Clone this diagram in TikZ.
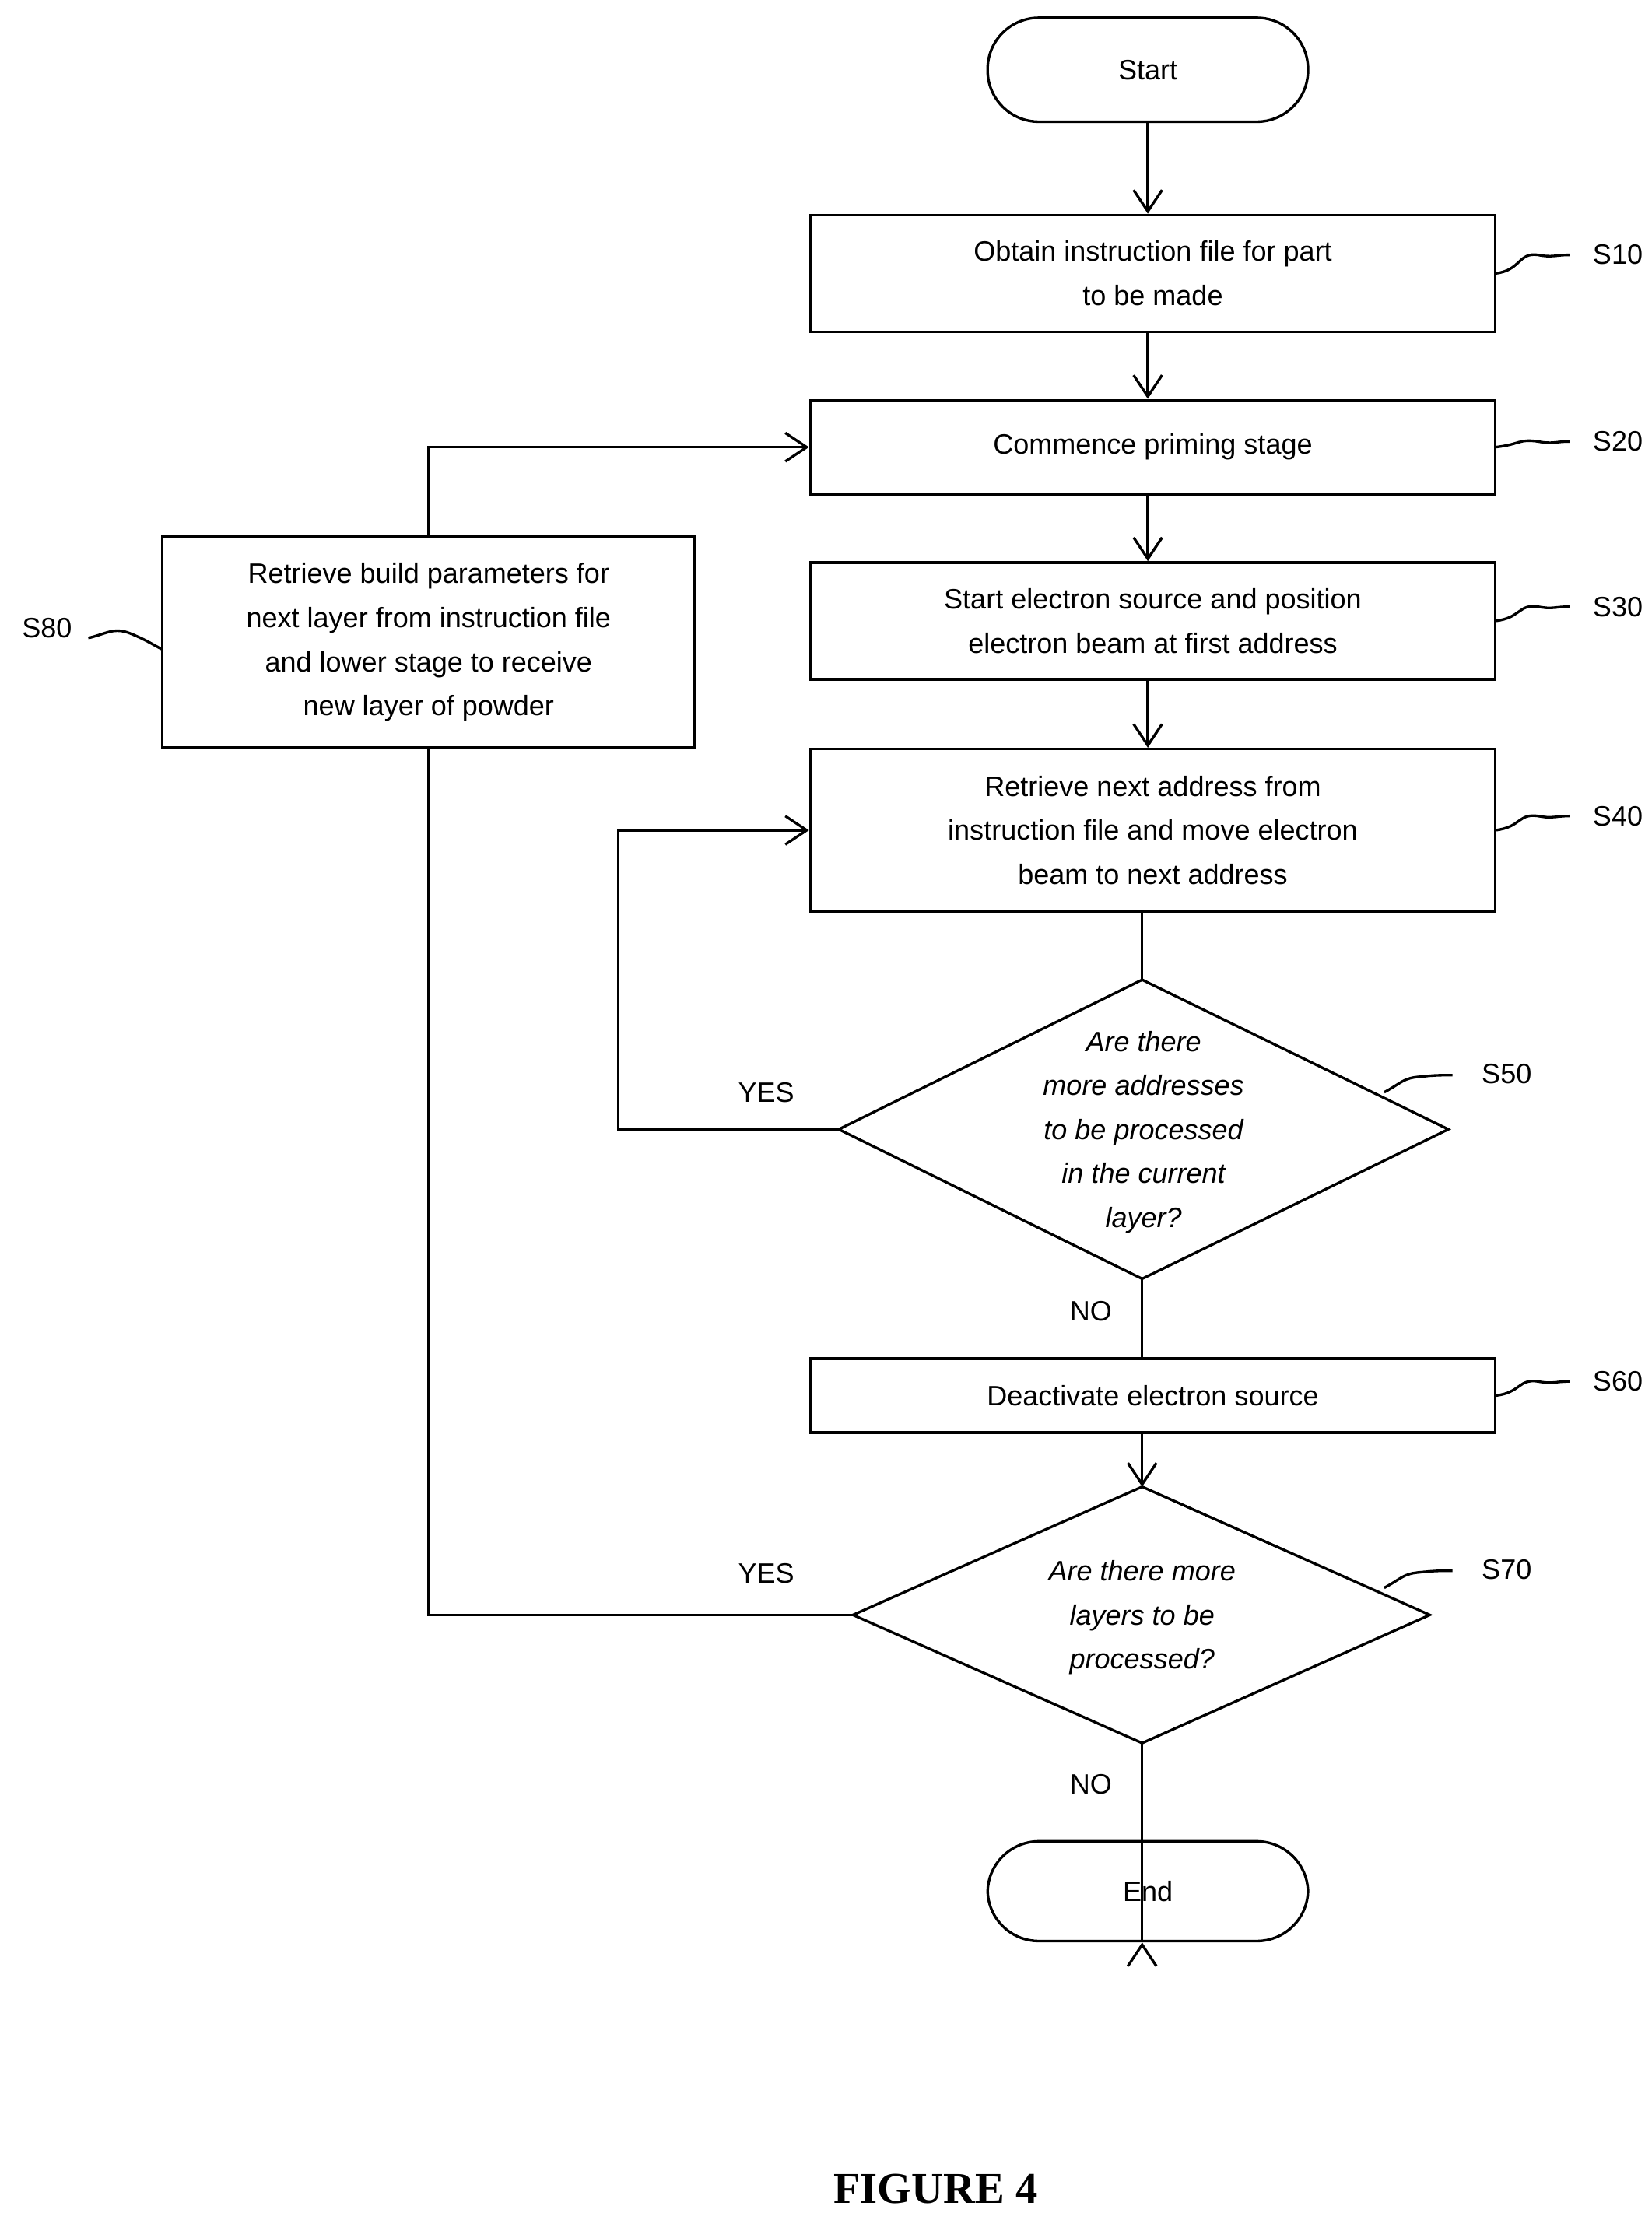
\documentclass[tikz,border=0pt]{standalone}
\usepackage{fontspec}
\setmainfont{Liberation Sans}
\newfontfamily\serifb{Liberation Serif}
\usetikzlibrary{arrows.meta}
\begin{document}
\begin{tikzpicture}[x=0.05cm,y=-0.05cm,
  ln/.style={line width=2.6pt},
  ar/.style={ln,-{Straight Barb[length=0.75cm,width=1cm,line width=2.6pt]}},
  box/.style={draw,ln,rectangle,inner sep=0pt,align=center,font=\fontsize{28}{44}\selectfont},
  term/.style={box,rounded corners=1.8cm},
  txt/.style={align=center,font=\fontsize{28}{44}\selectfont},
  dtxt/.style={txt,font=\fontsize{28}{44}\selectfont\itshape},
  lab/.style={font=\fontsize{28}{34}\selectfont}]
\useasboundingbox (0,0) rectangle (1160,1554);
\node[term,minimum width=11.25cm,minimum height=3.65cm] (start) at (806,49) {Start};
\node[box,minimum width=24.05cm,minimum height=4.1cm] (s10) at (809.5,192) {Obtain instruction file for part\\to be made};
\node[box,minimum width=24.05cm,minimum height=3.3cm] (s20) at (809.5,314) {Commence priming stage};
\node[box,minimum width=24.05cm,minimum height=4.1cm] (s30) at (809.5,436) {Start electron source and position\\electron beam at first address};
\node[box,minimum width=24.05cm,minimum height=5.7cm] (s40) at (809.5,583) {Retrieve next address from\\instruction file and move electron\\beam to next address};
\draw[ln] (589,793) coordinate (d5l) -- (802,688) coordinate (d5t) -- (1017,793) coordinate (d5r) -- (802,898) coordinate (d5b) -- cycle;
\node[dtxt] (t50) at (803,795) {Are there\\more addresses\\to be processed\\in the current\\layer?};
\node[box,minimum width=24.05cm,minimum height=2.6cm] (s60) at (809.5,980) {Deactivate electron source};
\draw[ln] (599,1134) coordinate (d7l) -- (802,1044) coordinate (d7t) -- (1004,1134) coordinate (d7r) -- (802,1224) coordinate (d7b) -- cycle;
\node[dtxt] (t70) at (802,1136) {Are there more\\layers to be\\processed?};
\node[term,minimum width=11.25cm,minimum height=3.5cm] (end) at (806,1328) {End};
\node[box,minimum width=18.7cm,minimum height=7.4cm] (s80) at (301,451) {Retrieve build parameters for\\next layer from instruction file\\and lower stage to receive\\new layer of powder};
% arrows
\draw[ar] (start.south) -- (s10.north -| start.south);
\draw[ar] (s10.south -| start.south) -- (s20.north -| start.south);
\draw[ar] (s20.south -| start.south) -- (s30.north -| start.south);
\draw[ar] (s30.south -| start.south) -- (s40.north -| start.south);
\draw[ln] (s40.south -| d5t) -- (d5t);
\draw[ar] (d5l) -- (434,793) coordinate (c1) |- (s40.west);
\draw[ln] (d5b) -- (s60.north -| d5b);
\draw[ar] (s60.south -| d5t) -- (d7t);
\draw[ar] (d7b) -- (end.south -| d7b) ++(0,0);
\draw[ln] (d7l) -- (301,1134) coordinate (c2) -- (s80.south);
\draw[ar] (s80.north) |- (s20.west);
% labels
\node[lab] (y1) at (538,767) {YES};
\node[lab] (n1) at (766,921) {NO};
\node[lab] (y2) at (538,1105) {YES};
\node[lab] (n2) at (766,1253) {NO};
% step labels with squiggles
\foreach \n/\y/\ly in {s10/192/179, s20/314/310, s30/436/426, s40/583/573, s60/980/970}{
  \node[lab] (l\n) at (1136,\ly) {\MakeUppercase{\n}};
  \draw[ln] (1050,\y) .. controls (1068,\y-2) and (1066,\ly-2) .. (1080,\ly) .. controls (1090,\ly+2) and (1092,\ly) .. (1102,\ly);
}
\node[lab] (l50) at (1058,754) {S50};
\draw[ln] (972,767) .. controls (985,760) and (985,757) .. (998,756) .. controls (1008,755) and (1010,755) .. (1020,755);
\node[lab] (l70) at (1058,1102) {S70};
\draw[ln] (972,1115) .. controls (985,1108) and (985,1105) .. (998,1104) .. controls (1008,1103) and (1010,1103) .. (1020,1103);
\node[lab] (l80) at (33,441) {S80};
\draw[ln] (62,448) .. controls (75,445) and (80,440) .. (92,445) .. controls (104,450) and (106,452) .. (114,456);
\node[font=\serifb\bfseries\fontsize{44}{50}\selectfont] (fig) at (657,1537) {FIGURE 4};
\end{tikzpicture}
\end{document}
